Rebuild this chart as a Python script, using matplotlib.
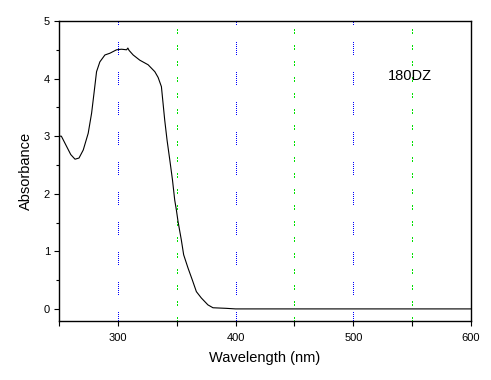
# UV-Vis 吸收光谱 180DZ
import matplotlib
matplotlib.use('Agg')
import matplotlib.pyplot as plt
from matplotlib.ticker import MultipleLocator, FixedLocator

# 数据
wavelength = [250, 252, 256, 260, 263.6, 267, 270.6, 274.8, 277.7, 279.7, 281.9,
              284.7, 289, 293.2, 298.9, 303.1, 307.4, 308.5, 309.5, 313, 318.6,
              325.7, 331.4, 334.2, 337, 338.4, 339.8, 341.8, 344.1, 346.4, 348.3,
              349.7, 351.1, 353.9, 355.9, 359.6, 363.3, 366.7, 370.9, 376.5,
              380.8, 392, 400, 450, 500, 550, 600]
absorbance = [3.0, 3.0, 2.84, 2.68, 2.60, 2.62, 2.76, 3.05, 3.40, 3.74, 4.12,
              4.29, 4.41, 4.44, 4.50, 4.51, 4.50, 4.53, 4.49, 4.41, 4.32,
              4.24, 4.12, 4.02, 3.86, 3.57, 3.28, 2.93, 2.59, 2.24, 1.89,
              1.72, 1.52, 1.20, 0.94, 0.71, 0.50, 0.30, 0.19, 0.07,
              0.02, 0.01, 0.0, 0.0, 0.0, 0.0, 0.0]

major_grid = [300, 400, 500]
minor_grid = [350, 450, 550]
sample_label = '180DZ'

plt.rcParams['font.family'] = ['Liberation Sans', 'DejaVu Sans']

fig = plt.figure(figsize=(4.91, 3.80), dpi=100)
ax = fig.add_axes([59 / 491, 1 - 321 / 380, 412 / 491, 300 / 380])

# 网格线（蓝色点线组 / 绿色短点）
for xg in major_grid:
    ax.axvline(xg, color='#0000ff', lw=0.72, antialiased=False,
               linestyle=(3, (1, 1.5) * 6 + (1, 17)), zorder=1)
for xg in minor_grid:
    ax.axvline(xg, color='#00e000', lw=0.72, antialiased=False,
               linestyle=(0, (1.5, 1.5, 1.5, 11.5)), zorder=1)

ax.plot(wavelength, absorbance, color='black', lw=0.8, zorder=3)

ax.set_xlim(250, 600)
ax.set_ylim(-0.21, 5)
ax.xaxis.set_major_locator(FixedLocator([300, 400, 500, 600]))
ax.xaxis.set_minor_locator(FixedLocator([250, 350, 450, 550]))
ax.yaxis.set_major_locator(MultipleLocator(1))
ax.yaxis.set_minor_locator(MultipleLocator(0.5))

ax.tick_params(which='both', direction='out', width=0.8, labelsize=8)
ax.tick_params(axis='x', which='major', length=3.5, pad=5)
ax.tick_params(axis='x', which='minor', length=3.5)
ax.tick_params(axis='y', which='major', length=3.5, pad=3)
ax.tick_params(axis='y', which='minor', length=2)

for sp in ax.spines.values():
    sp.set_linewidth(1.0)

ax.set_xlabel('Wavelength (nm)', fontsize=10.5, labelpad=6)
ax.set_ylabel('Absorbance', fontsize=10.5, labelpad=8)

ax.text(529.5, 4.04, sample_label, fontsize=10.5, va='center', ha='left', zorder=4)

fig.savefig('out.png', dpi=100)
